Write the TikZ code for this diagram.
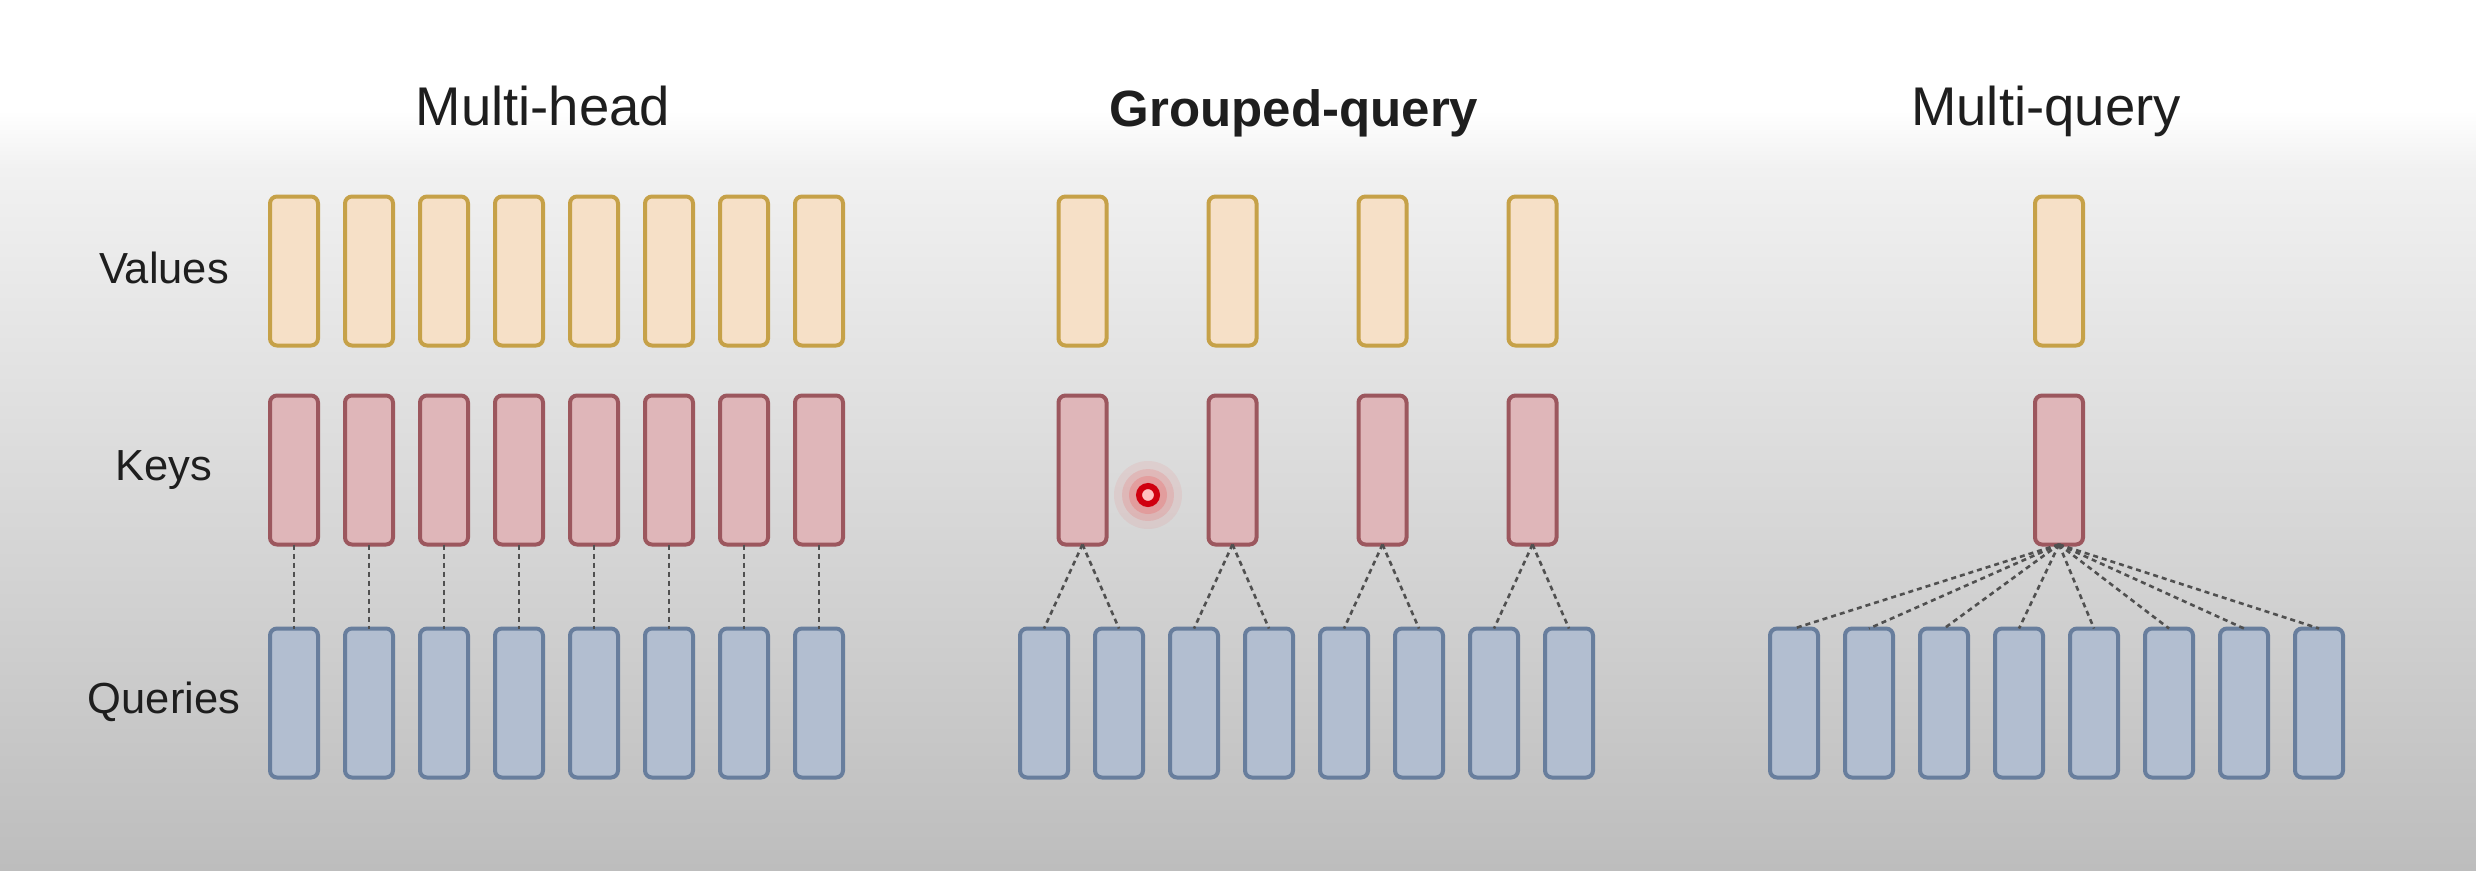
\documentclass[tikz,border=0pt]{standalone}
\usepackage{fontspec}
\setmainfont{Liberation Sans}
\definecolor{valfill}{HTML}{F6E0C7}
\definecolor{valdraw}{HTML}{C6A148}
\definecolor{keyfill}{HTML}{DFB6B9}
\definecolor{keydraw}{HTML}{9C575E}
\definecolor{qfill}{HTML}{B2BED0}
\definecolor{qdraw}{HTML}{687E9D}
\definecolor{linkgray}{HTML}{505050}
\definecolor{txt}{HTML}{1E1E1E}
\definecolor{bgmid}{HTML}{F1F1F1}
\definecolor{bgbot}{HTML}{BDBDBD}
\definecolor{dotred}{HTML}{D0000F}
\begin{document}
\begin{tikzpicture}[x=1pt,y=-1pt,
  box/.style={rounded corners=7pt, line width=4pt, minimum width=48pt, minimum height=149pt, inner sep=0pt, outer sep=0pt},
  vbox/.style={box, draw=valdraw, fill=valfill},
  kbox/.style={box, draw=keydraw, fill=keyfill},
  qbox/.style={box, draw=qdraw, fill=qfill},
  link/.style={draw=linkgray, line width=2.6pt, dash pattern=on 5pt off 4pt},
  title/.style={font=\fontsize{54.5}{60}\selectfont, text=txt, anchor=base, inner sep=0pt},
  btitle/.style={font=\fontsize{51}{60}\selectfont\bfseries, text=txt, anchor=base, inner sep=0pt},
  rowlabel/.style={font=\fontsize{43.5}{50}\selectfont, text=txt, anchor=base, inner sep=0pt}]
\useasboundingbox (0,0) rectangle (2476,870);
% background
\fill[white] (0,0) rectangle (2476,870);
\shade[top color=white, bottom color=bgmid] (0,110) rectangle (2476,170);
\shade[top color=bgmid, bottom color=bgbot] (0,169.5) rectangle (2476,870);

% titles
\node[title]  (t1) at (543,125) {Multi-head};
\node[btitle] (t2) at (1294,126) {Grouped-query};
\node[title]  (t3) at (2046,125) {Multi-query};

% row labels
\node[rowlabel] (lv) at (164,283) {Values};
\node[rowlabel] (lk) at (164,480) {Keys};
\node[rowlabel] (lq) at (164,713) {Queries};

% Multi-head
\foreach \i in {1,...,8} {
  \pgfmathsetmacro\xx{294+75*(\i-1)}
  \node[vbox] (mhv\i) at (\xx,271) {};
  \node[kbox] (mhk\i) at (\xx,470) {};
  \node[qbox] (mhq\i) at (\xx,703) {};
  \draw[link] (mhk\i.south) -- (mhq\i.north);
}

% Grouped-query
\foreach \i in {1,...,8} {
  \pgfmathsetmacro\xx{1044+75*(\i-1)}
  \node[qbox] (gq\i) at (\xx,703) {};
}
\foreach \i in {1,...,4} {
  \pgfmathsetmacro\xx{1082.5+150*(\i-1)}
  \pgfmathtruncatemacro\ja{2*\i-1}
  \pgfmathtruncatemacro\jb{2*\i}
  \node[vbox] (gv\i) at (\xx,271) {};
  \node[kbox] (gk\i) at (\xx,470) {};
  \draw[link] (gk\i.south) -- (gq\ja.north);
  \draw[link] (gk\i.south) -- (gq\jb.north);
}

% Multi-query
\node[vbox] (mv) at (2059,271) {};
\node[kbox] (mk) at (2059,470) {};
\foreach \i in {1,...,8} {
  \pgfmathsetmacro\xx{1794+75*(\i-1)}
  \node[qbox] (mq\i) at (\xx,703) {};
  \draw[link] (mk.south) -- (mq\i.north);
}

% pointer dot
\fill[red, opacity=0.06] (1148,495) circle (34);
\fill[red, opacity=0.10] (1148,495) circle (26);
\fill[red, opacity=0.14] (1148,495) circle (19);
\node[circle, draw=dotred, line width=6pt, fill=red!25, minimum size=18pt, inner sep=0pt] (cursor) at (1148,495) {};
\end{tikzpicture}
\end{document}
